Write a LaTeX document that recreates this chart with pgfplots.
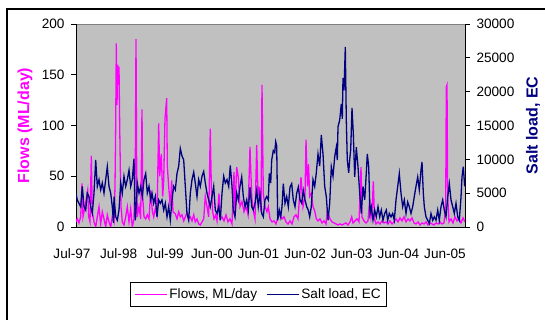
\documentclass[border=0pt]{standalone}
\usepackage{pgfplots}
\pgfplotsset{compat=1.18}
\usepackage{fontspec}
\setmainfont{Liberation Sans}
\definecolor{plotgray}{HTML}{C0C0C0}
\definecolor{bordergray}{HTML}{808080}
\definecolor{flowmag}{HTML}{FF00FF}
\definecolor{saltnavy}{HTML}{000080}
\begin{document}
\begin{tikzpicture}
\useasboundingbox (0,0) rectangle (545bp,320bp);
\clip (0,0) rectangle (545bp,320bp);
\draw[line width=1.2bp] (7bp,311bp) rectangle (560bp,-20bp);
\pgfplotsset{
  commonaxis/.style={
    at={(76bp,93bp)}, anchor=south west, scale only axis,
    width=389bp, height=203bp,
    xmin=76, xmax=465,
    font=\fontsize{13.6bp}{16bp}\selectfont,
    /pgf/number format/assume math mode=true,
    /pgf/number format/fixed,
    /pgf/number format/set thousands separator={},
    scaled y ticks=false,
    tick align=outside,
    major tick length=5bp,
    tick style={black, line width=0.8bp},
    axis line style={black, line width=0.8bp},
  }
}
\begin{axis}[commonaxis,
  ymin=0, ymax=200,
  axis x line*=bottom, axis y line*=left,
  axis background/.style={fill=plotgray, draw=bordergray, line width=0.8bp},
  ytick={0,50,100,150,200},
  xtick={76,122.625,169.25,215.875,262.5,309.125,355.75,402.375,449},
  xticklabels={Jul-97,Jul-98,Jul-99,Jun-00,Jun-01,Jun-02,Jun-03,Jun-04,Jun-05},
  major x tick style={draw=none},
  xticklabel style={xshift=-4bp, yshift=-13bp},
  yticklabel style={xshift=-3bp},
  ylabel={\bfseries Flows (ML/day)},
  ylabel style={at={(axis description cs:-0.131,0.5)}, anchor=center, text=flowmag, font=\fontsize{16bp}{18bp}\selectfont},
]
\addplot[flowmag, line width=1.3bp, mark=none] coordinates {
(76,5)(77.3,8)(79,4)(80.7,10)(82,43)(83,10)(85,20)(86.7,30)(87.7,36)(88.7,10)
(90,5)(91.3,70)(92.3,15)(94,5)(95.7,0)(97.3,10)(99,20)(100.7,3)(102.3,15)(104,8)
(105.7,0)(107.3,12)(109,5)(110.7,0)(112.3,10)(114,5)(115,40)(115.7,100)(116.3,181)(117,120)
(117.7,160)(118.3,140)(119,158)(119.7,100)(120.3,60)(121,20)(122.3,5)(124,2)(125.7,10)(127.3,20)
(129,5)(130.7,18)(132.3,0)(134,8)(135.3,60)(136,185)(136.7,50)(137.3,10)(139,20)(140.7,8)
(142,116)(142.7,30)(144,10)(145.7,8)(147.3,12)(149,8)(150.7,36)(152.3,16)(153.7,10)(155.3,18)
(157,12)(158.7,102)(159.7,50)(161.3,72)(162.7,30)(163.7,46)(165,107)(166.7,127)(167.3,60)(168.7,40)
(170.3,20)(171.7,46)(173,15)(175.3,13)(177,8)(178.7,15)(180.3,10)(182,12)(183.7,6)(185.3,10)
(187,14)(188.7,8)(190.3,10)(192,6)(193.7,12)(195.3,5)(197,8)(198.7,3)(200.3,2)(202,5)
(203.7,8)(205.3,30)(207,20)(208.7,10)(210.3,97)(211.3,40)(212.7,15)(214,8)(215.7,12)(217,6)
(219,33)(220.3,8)(222,10)(224,6)(226,12)(228,5)(230,8)(232,3)(234,54)(235,15)
(236.7,59)(238.3,49)(240,20)(242,25)(244,15)(246,20)(248,12)(250,79)(251.7,30)(253.3,16)
(255,8)(256.7,81)(258,30)(259,40)(261,15)(262,140)(263.3,33)(265,20)(267,15)(268.3,20)
(270,8)(272,5)(274,6)(276,3)(278,10)(280,12)(282,8)(284,10)(286,5)(288,3)
(290,6)(292,3)(294,10)(296,12)(298,8)(301,49)(303,20)(305,30)(306,86)(307.5,40)
(308.5,62)(309.7,30)(311.3,33)(313,20)(314.7,16)(316.3,8)(318,6)(320,8)(322,4)(324,6)
(326,3)(327.3,16)(328.7,12)(330,8)(332,5)(334,4)(336,3)(338,2)(340,3)(342,2)
(344,3)(346,4)(348,2)(350,5)(351.7,10)(353,4)(355,6)(357,8)(359,5)(361,59)
(362,10)(364,6)(366,4)(368,6)(369.7,27)(371,10)(372.3,20)(373.3,45)(374.5,8)(376,3)
(378,5)(380,3)(382,6)(384,4)(386,5)(388,3)(390,6)(392,3)(394,5)(396,8)
(398,5)(400,9)(402,6)(404,10)(406,5)(408,8)(410,6)(412,9)(414,4)(416,3)
(418,5)(420,2)(422,4)(424,3)(426,5)(428,2)(430,4)(432,3)(434,2)(436,4)
(438,3)(440,5)(442,3)(444,4)(445.7,20)(446.3,138)(447,140)(447.7,30)(449,5)(451,8)
(453,4)(455,10)(457,6)(459,8)(461,4)(463,9)(465,5)
};
\end{axis}
\begin{axis}[commonaxis,
  ymin=0, ymax=30000,
  axis x line=none, axis y line*=right,
  ytick={0,5000,10000,15000,20000,25000,30000},
  yticklabel style={xshift=3bp},
  ylabel={\bfseries Salt load, EC},
  ylabel style={at={(axis description cs:1.175,0.5)}, anchor=center, text=saltnavy, font=\fontsize{16bp}{18bp}\selectfont},
  legend columns=-1,
  legend style={at={(axis description cs:0.469,-0.3325)}, anchor=center,
    draw=black, fill=white, line width=0.8bp,
    font=\fontsize{13.6bp}{16bp}\selectfont,
    inner xsep=4bp, inner ysep=4bp,
    /tikz/every even column/.append style={column sep=7bp}},
  legend image code/.code={\draw[#1] (0bp,0bp) -- (32bp,0bp);},
]
\addlegendimage{flowmag, line width=1.3bp}
\addlegendentry{Flows, ML/day}
\addplot[saltnavy, line width=1.3bp, mark=none] coordinates {
(76,4900)(77.3,4000)(79,3500)(80.7,3000)(82.3,6000)(84,3000)(85.7,2500)(87.3,5000)(89,4500)(90.7,3000)
(92.3,2000)(94,5000)(95.7,9900)(97.3,6000)(99,7000)(100.7,5500)(102.3,6500)(104,5000)(105.7,7000)(107.3,8900)
(109,6000)(110.7,5000)(112.3,3000)(113.5,600)(114,4500)(115.7,1500)(117.3,1000)(119,2500)(120.7,6500)(122.3,5000)
(124,7500)(125.7,6000)(127.3,7000)(129,8400)(130.7,6000)(132.3,7000)(134,10100)(135.2,1000)(135.7,1500)(137.3,6500)
(139,5000)(140.7,6000)(142.3,4500)(144,7000)(145.7,7900)(147.3,5000)(149,6000)(150.7,4000)(152,5000)(153.7,3500)
(155.3,4500)(157,1500)(158.7,4000)(160.3,3500)(162,4000)(163.7,2500)(165.3,3500)(167,1500)(168.7,3000)(170.3,1000)
(172,4000)(173.7,6000)(175.3,5500)(177,7900)(178.7,9000)(180.3,11600)(182,10500)(183.7,9900)(185.3,6000)(187,2000)
(188.7,1000)(190.3,5000)(192,7000)(193.7,8100)(195.3,6500)(197,4500)(198.7,7000)(200.3,6000)(202,7500)(203.7,8200)
(205.3,6500)(207,5000)(208.7,4000)(210.3,3000)(212,4500)(213.7,6000)(215.3,2500)(217,2000)(218.7,3000)(220.3,1000)
(222,5000)(223.7,7500)(225.3,6500)(227,7000)(228.7,6000)(230.3,9100)(232,6000)(233.3,2500)(235,1500)(236.7,5000)
(238.3,4000)(240,6000)(241.7,7400)(243.3,4500)(245,3000)(246.7,4000)(248.3,2500)(250,5900)(251.7,3000)(253.3,2500)
(255,3500)(256.7,5400)(258.3,3000)(260,5000)(261.7,2000)(263.3,1500)(265,4000)(266.7,4500)(268.3,4000)(269.3,7900)
(270.7,6500)(271.7,9900)(273.3,11300)(274.7,11000)(275.7,12600)(276.7,12000)(277.7,1000)(279.3,2500)(280.7,1500)(282,3000)
(283.3,6400)(285,3500)(286.7,4500)(288.3,3000)(290,5900)(291.7,6400)(293.3,4000)(295,3000)(296.7,5000)(298.3,5900)
(300,4000)(301.7,3500)(303.3,5400)(305,4000)(306.7,3000)(308.3,2500)(309.7,1500)(311.3,3000)(313,7000)(314.7,6000)
(316.3,8000)(318,10800)(319.7,9000)(321.3,13600)(323,10800)(324.7,6000)(326.3,4500)(328,1000)(329.7,3500)(331.3,8900)
(333,7500)(334.7,10400)(336.3,11800)(337.3,9900)(338,14800)(339.7,15800)(341.3,18200)(342.3,16000)(343,22000)(344,20200)
(345.3,26600)(346.3,15800)(347.3,9900)(348.7,8000)(349.7,10000)(350.7,11400)(352,17600)(353.3,13800)(354.7,7400)(356.3,11800)
(358,8900)(359.7,5000)(361.3,2000)(363,6000)(364.7,4000)(366.3,8000)(367.3,10800)(368.7,8900)(370,2000)(371.3,3000)
(373,1000)(374.7,2500)(376.3,1500)(378,3000)(379.7,1500)(381.3,2500)(383,1000)(384.7,2000)(386.3,2500)(387.7,1000)
(389.3,2000)(391,1500)(392.7,2000)(394.3,1000)(396,4000)(397.7,6000)(399.3,7900)(401,5000)(402.7,3000)(404.3,4000)
(406,2000)(407.7,3700)(409.3,3000)(411,2000)(412.7,3000)(414.3,4500)(416,6000)(417.7,7400)(419.3,5500)(421,8400)
(422,9600)(423.3,5000)(424.3,3000)(426,1500)(427.7,1000)(429.3,500)(431,2000)(432.7,1000)(434.3,1500)(436,1000)
(437.7,2500)(439.3,1000)(441,3000)(442.7,4000)(444.3,2500)(446,1500)(447.7,4400)(449.3,6400)(451,4000)(452.7,3000)
(454.3,2000)(456,3500)(457.7,1500)(459.3,1000)(461,4400)(462,7400)(463.3,8900)(464.7,6000)
};
\addlegendentry{Salt load, EC}
\end{axis}
\end{tikzpicture}
\end{document}
